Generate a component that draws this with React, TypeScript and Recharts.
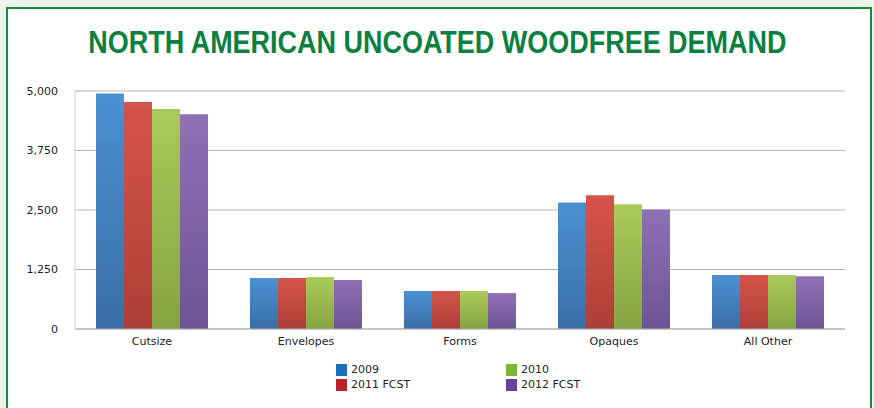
import React from 'react';
import { BarChart, Bar, XAxis, YAxis, CartesianGrid } from 'recharts';

const categories = ['Cutsize', 'Envelopes', 'Forms', 'Opaques', 'All Other'];
const y2009 = [4950, 1070, 800, 2660, 1135];
const y2010 = [4620, 1090, 800, 2620, 1135];
const y2011 = [4770, 1070, 800, 2810, 1135];
const y2012 = [4510, 1030, 755, 2510, 1110];
const yTicks = [0, 1250, 2500, 3750, 5000];

const data = categories.map((name, i) => ({
  name,
  y2009: y2009[i],
  y2011: y2011[i],
  y2010: y2010[i],
  y2012: y2012[i],
}));

// bar order in the picture: 2009, 2011, 2010, 2012
const series = [
  { key: 'y2009', top: '#4b91d2', bottom: '#3a6ea6' },
  { key: 'y2011', top: '#d5544b', bottom: '#ad3f37' },
  { key: 'y2010', top: '#aacb5a', bottom: '#86a343' },
  { key: 'y2012', top: '#8f71b5', bottom: '#6c5494' },
];

const legend = [
  { label: '2009', color: '#1b6fbd', x: 336, y: 363 },
  { label: '2010', color: '#7cb437', x: 506, y: 363 },
  { label: '2011 FCST', color: '#b7232f', x: 336, y: 378 },
  { label: '2012 FCST', color: '#6a3f9b', x: 506, y: 378 },
];

const font = '"DejaVu Sans", "Noto Sans", sans-serif';

export default function App() {
  return (
    <div style={{ position: 'absolute', left: 0, top: 0, width: 874, height: 408, background: '#edf4ea', overflow: 'hidden' }}>
      <div
        style={{
          position: 'absolute',
          left: 6,
          top: 7,
          width: 862,
          height: 420,
          background: '#ffffff',
          border: '2px solid #128a45',
        }}
      />
      <div
        style={{
          position: 'absolute',
          left: 0,
          top: 25,
          width: 874,
          textAlign: 'center',
          fontFamily: '"Liberation Sans", Arial, sans-serif',
          fontWeight: 'bold',
          fontSize: 31,
          color: '#0b8040',
          lineHeight: '36px',
          transform: 'scaleX(0.87)',
          transformOrigin: '440px 0',
        }}
      >
        NORTH AMERICAN UNCOATED WOODFREE DEMAND
      </div>
      <div style={{ position: 'absolute', left: 0, top: 0 }}>
        <BarChart
          width={874}
          height={408}
          data={data}
          margin={{ top: 91, right: 29, left: 0, bottom: 49 }}
          barCategoryGap={21}
          barGap={0}
        >
          <defs>
            {series.map((s) => (
              <linearGradient key={s.key} id={`g-${s.key}`} x1="0" y1="0" x2="0" y2="1">
                <stop offset="0%" stopColor={s.top} />
                <stop offset="100%" stopColor={s.bottom} />
              </linearGradient>
            ))}
          </defs>
          <CartesianGrid vertical={false} stroke="#b4b4b4" strokeWidth={1} />
          <XAxis
            dataKey="name"
            height={30}
            tickLine={false}
            axisLine={{ stroke: '#b4b4b4' }}
            tick={{ fill: '#222', fontSize: 11, fontFamily: font }}
          />
          <YAxis
            width={75}
            domain={[0, 5000]}
            ticks={yTicks}
            tickLine={false}
            tickMargin={11}
            axisLine={{ stroke: '#cfcfcf' }}
            tickFormatter={(v: number) => v.toLocaleString('en-US')}
            tick={{ fill: '#222', fontSize: 11, fontFamily: font }}
          />
          {series.map((s) => (
            <Bar key={s.key} dataKey={s.key} fill={`url(#g-${s.key})`} isAnimationActive={false} />
          ))}
        </BarChart>
      </div>
      {legend.map((l) => (
        <div
          key={l.label}
          style={{
            position: 'absolute',
            left: l.x,
            top: l.y,
            display: 'flex',
            alignItems: 'center',
            fontFamily: font,
            fontSize: 11,
            color: '#222',
            lineHeight: '13px',
          }}
        >
          <span style={{ display: 'inline-block', width: 11, height: 12, background: l.color, marginRight: 4 }} />
          {l.label}
        </div>
      ))}
    </div>
  );
}
